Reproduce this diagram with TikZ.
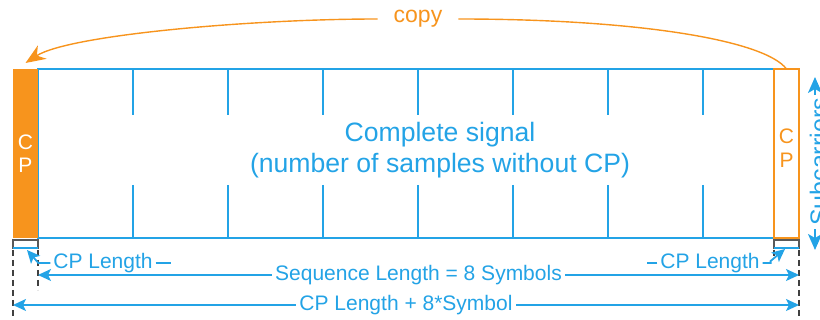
\documentclass[tikz,border=0pt]{standalone}
\usepackage{fontspec}
\setmainfont{Liberation Sans}
\usetikzlibrary{arrows.meta}

\begin{document}
\begin{tikzpicture}[x=0.5pt, y=0.5pt,
    %Option for nice arrows
    >={Stealth[length=6.5pt, width=6pt, inset=1.5pt]}, %
    inner sep=0pt, outer sep=0pt,%
    cpbox/.style={minimum width=12.5pt, minimum height=84.5pt, align=center,
        font=\fontsize{10.5}{11.5}\selectfont},
    sigbox/.style={draw=sigblue, line width=0.9pt, minimum width=380.5pt, minimum height=84.5pt},
    divider/.style={sigblue, line width=0.9pt},
    dimline/.style={sigblue, line width=0.9pt},
    bluetext/.style={text=sigblue, fill=white, inner xsep=1.5pt, inner ysep=1pt,
        font=\fontsize{10.5}{12}\selectfont},
    guide/.style={black!75, dash pattern=on 3pt off 2pt, line width=0.8pt},
    copyline/.style={cporange, line width=0.7pt},
]
    % Colors
    \definecolor{sigblue}{RGB}{35,163,230}
    \definecolor{cporange}{RGB}{247,148,29}

    \useasboundingbox (0,0) rectangle (820,320);

    % Signal frame and symbols
    \node[sigbox] (sig) at (418.5,166.5) {};
    \foreach \x in {133,228,...,703} {
        \draw[divider] (\x,251) -- (\x,205);
        \draw[divider] (\x,135) -- (\x,82);
    }
    \node[text=sigblue, align=center, font=\fontsize{13.3}{15.5}\selectfont] (sigtxt)
        at (440,169.5) {Complete signal\\(number of samples without CP)};

    % Cyclic prefix, front and end
    \node[cpbox, fill=cporange, text=white] (cpL) at (25.5,166.5) {C\\P};
    \node[cpbox, draw=cporange, line width=0.75pt, text=cporange] (cpR) at (786.5,166.5) {};
    \node[text=cporange, align=center, font=\fontsize{10.5}{12}\selectfont] (cpRtxt)
        at (786.5,172) {C\\P};

    % Copy of the end into the prefix
    \node[text=cporange, fill=white, inner xsep=8pt, inner ysep=2pt,
        font=\fontsize{11.5}{13}\selectfont] (copy) at (418,301) {copy};
    \coordinate (cpLtip) at ([yshift=3pt]cpL.north);
    \draw[copyline] (copy.east) .. controls +(178,0) and +(-22,29) .. (cpR.north);
    \draw[copyline, -{Stealth[length=10pt, width=8pt]}]
        (copy.west) .. controls +(-127,0) and +(43,28) .. (cpLtip);

    % Guides under the prefixes
    \draw[guide] ([yshift=-1pt]cpL.south west) -- ++(0,-80);
    \draw[guide] ([yshift=-1pt]cpL.south east) -- ++(0,-50);
    \draw[guide] ([yshift=-1pt]cpR.south west) -- ++(0,-18);
    \draw[guide] ([yshift=-1pt]cpR.south east) -- ++(0,-80);
    \draw[black!65, line width=0.7pt] ([yshift=-1pt]cpL.south west) rectangle ++(25,-8);
    \draw[black!65, line width=0.7pt] ([yshift=-1pt]cpR.south west) rectangle ++(25,-8);
    \draw[dimline] ([yshift=-5pt]cpL.south west) -- ++(25,0);
    \draw[dimline] ([yshift=-5pt]cpR.south west) -- ++(25,0);

    % CP lengths
    \coordinate (cpLbar) at (27,70);
    \coordinate (cpRbar) at (785,71);
    \node[bluetext] (cpLlen) at (103,57) {CP Length};
    \draw[dimline, ->] (cpLlen.west) -- ++(-12,0) -- (cpLbar);
    \draw[dimline] (cpLlen.east) -- ++(15,0);
    \node[bluetext] (cpRlen) at (710,57) {CP Length};
    \draw[dimline] (cpRlen.west) -- ++(-10,0);
    \draw[dimline, ->] (cpRlen.east) -| ++(8,2) -- (cpRbar);

    % Lengths of the whole
    \draw[dimline, <->] (cpL.south east |- 0,45) --
        node[bluetext] {Sequence Length = 8 Symbols} (cpR.south east |- 0,45);
    \draw[dimline, <->] (cpL.south west |- 0,15) --
        node[bluetext] {CP Length + 8*Symbol} (cpR.south east |- 0,15);

    % Subcarriers
    \coordinate (subTop) at (815,243);
    \coordinate (subBot) at (815,70);
    \draw[dimline, <->, >={Stealth[length=8pt, width=7pt, inset=2pt]}] (subBot) -- (subTop);
    \node[bluetext, rotate=90, font=\fontsize{12.5}{14}\selectfont] (sub) at (819,158) {Subcarriers};

\end{tikzpicture}
\end{document}
